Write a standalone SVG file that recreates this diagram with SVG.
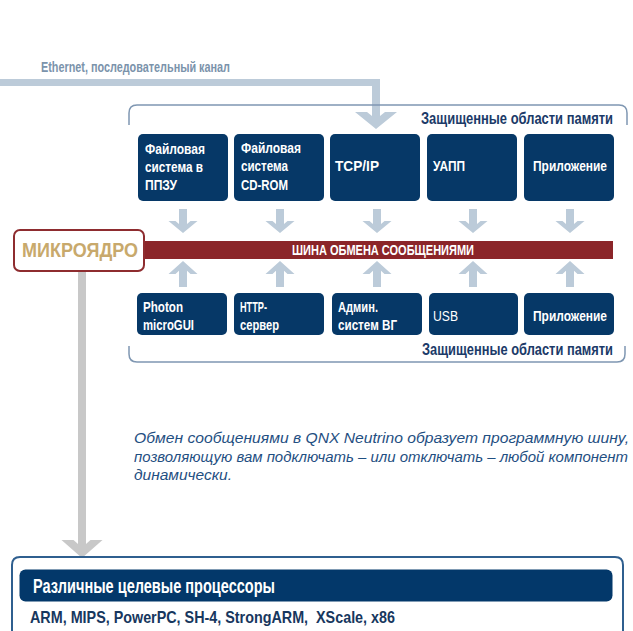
<svg xmlns="http://www.w3.org/2000/svg" width="633" height="631" viewBox="0 0 633 631">
<style>
text{font-family:"Liberation Sans",Arial,sans-serif;font-weight:bold}
.box{fill:#063867}
.bt{fill:#fff;font-size:15.5px}
.zone{fill:#1b3a68;font-size:13.2px;text-anchor:end}
.bracket{fill:none;stroke:#7f97b2;stroke-width:1.5}
.arr{fill:#bccbd9}
.it{fill:#1f4f82;font-size:15px;font-style:italic;font-weight:normal}
</style>
<defs>
<path id="sa" d="M-4,-24 H4 V-9.1 L7.5,-12 H14.5 L0,0 L-14.5,-12 H-7.5 L-4,-9.1 Z"/>
</defs>
<g id="connectors">
<polygon class="arr" points="0,79 380,79 380,116 385,112 397,112 376,129 355,112 367,112 372,116 372,86 0,86"/>
<polygon fill="#c8c8c8" points="78,271 86,271 86,544 90.5,540 102.5,540 82,558 61.5,540 73.5,540 78,544"/>
<use href="#sa" class="arr" transform="translate(183,233)"/>
<use href="#sa" class="arr" transform="translate(280,233)"/>
<use href="#sa" class="arr" transform="translate(377,233)"/>
<use href="#sa" class="arr" transform="translate(473,233)"/>
<use href="#sa" class="arr" transform="translate(570,233)"/>
<use href="#sa" class="arr" transform="translate(183,261) scale(1,-1.08)"/>
<use href="#sa" class="arr" transform="translate(280,261) scale(1,-1.08)"/>
<use href="#sa" class="arr" transform="translate(377,261) scale(1,-1.08)"/>
<use href="#sa" class="arr" transform="translate(473,261) scale(1,-1.08)"/>
<use href="#sa" class="arr" transform="translate(570,261) scale(1,-1.08)"/>
</g>
<text x="41" y="72" fill="#7b93ab" font-size="14.5" textLength="189" lengthAdjust="spacingAndGlyphs">Ethernet, последовательный канал</text>
<g id="zone-top">
<path class="bracket" d="M129,125 V113 Q129,105 137,105 H619 Q627,105 627,113 V125"/>
<text class="zone" transform="translate(613,124) scale(1,1.25)" x="0" y="0" textLength="192" lengthAdjust="spacingAndGlyphs">Защищенные области памяти</text>
</g>
<g id="zone-bottom">
<path class="bracket" d="M129,346 V354 Q129,362 137,362 H617 Q625,362 625,354 V346"/>
<text class="zone" transform="translate(613,355) scale(1,1.25)" x="0" y="0" textLength="191" lengthAdjust="spacingAndGlyphs">Защищенные области памяти</text>
</g>
<g id="fs-rom">
<rect class="box" x="138" y="134" width="90" height="67" rx="5"/>
<text class="bt" x="145" y="154" textLength="60" lengthAdjust="spacingAndGlyphs">Файловая</text>
<text class="bt" x="145" y="172" textLength="58" lengthAdjust="spacingAndGlyphs">система в</text>
<text class="bt" x="145" y="190" textLength="32" lengthAdjust="spacingAndGlyphs">ППЗУ</text>
</g>
<g id="fs-cdrom">
<rect class="box" x="234" y="134" width="90" height="67" rx="5"/>
<text class="bt" x="241" y="153" textLength="60" lengthAdjust="spacingAndGlyphs">Файловая</text>
<text class="bt" x="241" y="171" textLength="47" lengthAdjust="spacingAndGlyphs">система</text>
<text class="bt" x="241" y="190" textLength="47" lengthAdjust="spacingAndGlyphs">CD-ROM</text>
</g>
<g id="tcpip">
<rect class="box" x="330" y="134" width="90" height="67" rx="5"/>
<text class="bt" x="335" y="171" textLength="44" lengthAdjust="spacingAndGlyphs">TCP/IP</text>
</g>
<g id="uapp">
<rect class="box" x="427" y="134" width="90" height="67" rx="5"/>
<text class="bt" x="433" y="171" textLength="32" lengthAdjust="spacingAndGlyphs">УАПП</text>
</g>
<g id="app-top">
<rect class="box" x="524" y="134" width="90" height="67" rx="5"/>
<text class="bt" x="533" y="171" textLength="74" lengthAdjust="spacingAndGlyphs">Приложение</text>
</g>
<g id="bus">
<rect x="144" y="241" width="469" height="18" fill="#8b2529"/>
<text x="292" y="255" fill="#fff" font-size="15" textLength="182" lengthAdjust="spacingAndGlyphs">ШИНА ОБМЕНА СООБЩЕНИЯМИ</text>
</g>
<g id="microkernel">
<rect x="14" y="230" width="130" height="41" rx="6" fill="#fff" stroke="#8e2c2f" stroke-width="2"/>
<text x="22" y="257" fill="#c8a96c" font-size="21" textLength="116" lengthAdjust="spacingAndGlyphs">МИКРОЯДРО</text>
</g>
<g id="photon">
<rect class="box" x="137" y="293" width="90" height="42" rx="5"/>
<text class="bt" x="143" y="312" textLength="40" lengthAdjust="spacingAndGlyphs">Photon</text>
<text class="bt" x="143" y="330" textLength="51" lengthAdjust="spacingAndGlyphs">microGUI</text>
</g>
<g id="http">
<rect class="box" x="234" y="293" width="90" height="42" rx="5"/>
<text class="bt" x="240" y="312" textLength="27" lengthAdjust="spacingAndGlyphs">HTTP-</text>
<text class="bt" x="240" y="330" textLength="39" lengthAdjust="spacingAndGlyphs">сервер</text>
</g>
<g id="admin">
<rect class="box" x="332" y="293" width="90" height="42" rx="5"/>
<text class="bt" x="338" y="312" textLength="40" lengthAdjust="spacingAndGlyphs">Админ.</text>
<text class="bt" x="338" y="330" textLength="59" lengthAdjust="spacingAndGlyphs">систем ВГ</text>
</g>
<g id="usb">
<rect class="box" x="429" y="293" width="89" height="42" rx="5"/>
<text class="bt" x="433" y="321" style="font-weight:normal" textLength="25" lengthAdjust="spacingAndGlyphs">USB</text>
</g>
<g id="app-bottom">
<rect class="box" x="524" y="293" width="90" height="42" rx="5"/>
<text class="bt" x="533" y="321" textLength="74" lengthAdjust="spacingAndGlyphs">Приложение</text>
</g>
<g id="caption">
<text class="it" x="134" y="443" textLength="495" lengthAdjust="spacingAndGlyphs">Обмен сообщениями в QNX Neutrino образует программную шину,</text>
<text class="it" x="134" y="462" textLength="494" lengthAdjust="spacingAndGlyphs">позволяющую вам подключать – или отключать – любой компонент</text>
<text class="it" x="134" y="480" textLength="98" lengthAdjust="spacingAndGlyphs">динамически.</text>
</g>
<g id="processors">
<path d="M12,631 V565 Q12,557 20,557 H615 Q623,557 623,565 V631" fill="none" stroke="#2f5f8f" stroke-width="2"/>
<rect x="19.5" y="569.5" width="593" height="32" rx="6" fill="#03386a"/>
<text x="33" y="593" fill="#fff" font-size="19.5" textLength="242" lengthAdjust="spacingAndGlyphs">Различные целевые процессоры</text>
<text x="30" y="623" fill="#17375e" font-size="16.5" style="white-space:pre" textLength="365" lengthAdjust="spacingAndGlyphs">ARM, MIPS, PowerPC, SH-4, StrongARM,  XScale, x86</text>
</g>
</svg>
